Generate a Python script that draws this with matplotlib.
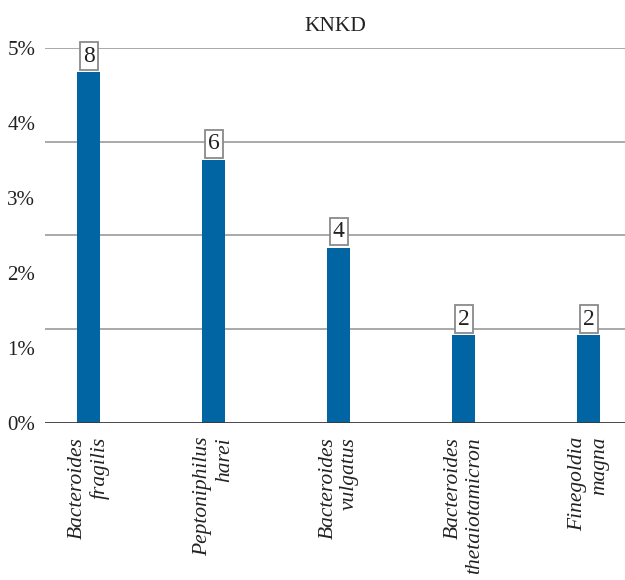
import matplotlib.pyplot as plt

species = ["Bacteroides\nfragilis", "Peptoniphilus\nharei", "Bacteroides\nvulgatus",
           "Bacteroides\nthetaiotamicron", "Finegoldia\nmagna"]
counts = [8, 6, 4, 2, 2]
total = 171
pct = [c / total * 100 for c in counts]

ytick_vals = [0, 1, 2, 3, 4, 5]
grid_vals = [1.25, 2.5, 3.75, 5.0]

BAR_COLOR = "#0065a2"
plt.rcParams["font.family"] = ["Liberation Serif", "DejaVu Serif"]

fig = plt.figure(figsize=(6.25, 5.8), dpi=100)
ax = fig.add_axes([0.072, 0.2707, 0.928, 0.6466])

ax.hlines(grid_vals, -0.35, 4.29, color="#a3a3a3", lw=1.3, zorder=1)
bars = ax.bar(range(len(pct)), pct, width=0.184, color=BAR_COLOR, zorder=2)
ax.axhline(0, color="#3a3a3a", lw=1.3, zorder=3)

for b, c in zip(bars, counts):
    ax.annotate(str(c), (b.get_x() + b.get_width() / 2, b.get_height()),
                xytext=(0, 4), textcoords="offset points",
                ha="center", va="bottom", fontsize=17, color="#222222",
                bbox=dict(boxstyle="square,pad=0.14", fc="white", ec="#8a8a8a", lw=1.3),
                zorder=4, annotation_clip=False)

ax.set_xlim(-0.35, 4.29)
ax.set_ylim(0, 5)
ax.set_yticks(ytick_vals)
ax.set_yticklabels([f"{v}%" for v in ytick_vals], fontsize=15, color="#222222")
ax.set_xticks(range(len(species)))
ax.set_xticklabels(species, rotation=90, fontsize=15.5, style="italic",
                   multialignment="right", color="#222222")
ax.tick_params(length=0, pad=7)
ax.tick_params(axis="x", pad=10)
for s in ax.spines.values():
    s.set_visible(False)

ax.set_title("KNKD", fontsize=15.5, pad=12, color="#222222")

fig.savefig("out.png", dpi=100)
